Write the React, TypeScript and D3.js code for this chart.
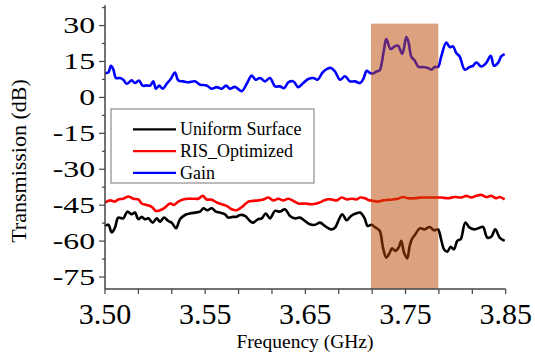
import { useEffect, useRef } from 'react'
import * as d3 from 'd3'

// traces: [frequency GHz, transmission dB]
const uniformSurface: [number, number][] = [
  [3.5, -53.7], [3.5029, -53.2], [3.5059, -56.4], [3.5087, -54.4], [3.5116, -50.2], [3.516, -50.5],
  [3.5195, -47.7], [3.5233, -48.8], [3.5262, -48.1], [3.5291, -50.9], [3.5321, -49.9], [3.5349, -50.9],
  [3.5378, -50.5], [3.5417, -52.3], [3.5452, -50.5], [3.548, -51.9], [3.5515, -50.2], [3.5553, -51.6],
  [3.5583, -52.3], [3.562, -54.6], [3.5655, -50.9], [3.5699, -49.1], [3.5742, -48.5], [3.5786, -48.1],
  [3.583, -47.7], [3.5859, -46.3], [3.5894, -47.1], [3.5932, -46.3], [3.597, -47.7], [3.6004, -48.1],
  [3.6048, -48.8], [3.6077, -50.2], [3.6115, -49.9], [3.615, -49.8], [3.6179, -49.1], [3.6223, -49.5],
  [3.6266, -51.6], [3.6295, -52.3], [3.6334, -50.9], [3.6369, -50.5], [3.6404, -48.5], [3.6441, -50.5],
  [3.6485, -47.4], [3.6528, -47.7], [3.6572, -46.7], [3.6616, -49.5], [3.6659, -50.5], [3.6703, -50.2],
  [3.6747, -51.6], [3.679, -53.0], [3.6834, -53.2], [3.6878, -52.3], [3.6921, -53.7], [3.6974, -55.1],
  [3.7009, -54.4], [3.7044, -50.9], [3.7073, -48.8], [3.7111, -51.3], [3.7149, -49.5], [3.719, -48.5],
  [3.7227, -48.1], [3.7265, -50.2], [3.7294, -53.7], [3.7329, -53.2], [3.7356, -54.1], [3.7399, -55.7],
  [3.7428, -62.7], [3.7457, -66.9], [3.7487, -64.8], [3.7507, -63.0], [3.7536, -64.1], [3.7565, -62.7],
  [3.7588, -59.9], [3.7612, -64.8], [3.764, -67.2], [3.7661, -62.0], [3.7681, -59.2], [3.771, -57.2],
  [3.7749, -54.7], [3.7792, -55.1], [3.7836, -54.1], [3.7874, -55.5], [3.7909, -55.1], [3.7932, -58.5],
  [3.7961, -63.4], [3.799, -64.4], [3.8019, -62.4], [3.8048, -63.4], [3.8077, -59.9], [3.8107, -59.2],
  [3.8147, -52.3], [3.8185, -54.4], [3.8229, -55.1], [3.8273, -54.4], [3.8302, -54.1], [3.8339, -58.5],
  [3.8374, -58.2], [3.8409, -55.1], [3.8447, -58.5], [3.8491, -59.9],
]

const risOptimized: [number, number][] = [
  [3.5, -43.9], [3.5044, -43.0], [3.5087, -43.5], [3.5116, -42.6], [3.516, -42.3], [3.5204, -41.4],
  [3.5247, -42.3], [3.5291, -42.6], [3.5321, -44.3], [3.5364, -44.9], [3.5408, -45.7], [3.5445, -47.4],
  [3.548, -47.1], [3.5524, -46.0], [3.5568, -44.3], [3.5603, -44.9], [3.564, -43.5], [3.5684, -42.6],
  [3.5728, -42.3], [3.5771, -42.3], [3.5815, -42.3], [3.5853, -41.1], [3.5888, -42.6], [3.5932, -42.7],
  [3.5976, -43.9], [3.6019, -44.6], [3.6063, -45.3], [3.6107, -46.7], [3.615, -47.1], [3.6208, -45.3],
  [3.6252, -43.5], [3.6295, -43.2], [3.6339, -43.0], [3.6383, -42.6], [3.6426, -41.8], [3.647, -43.0],
  [3.6514, -42.3], [3.6557, -43.0], [3.6601, -42.3], [3.6645, -43.2], [3.6688, -44.3], [3.6747, -44.3],
  [3.6805, -44.6], [3.6849, -44.3], [3.6893, -43.5], [3.6936, -42.6], [3.698, -42.6], [3.7024, -43.0],
  [3.7067, -41.8], [3.7111, -42.6], [3.7155, -42.3], [3.7198, -42.6], [3.7227, -41.8], [3.7271, -42.1],
  [3.73, -42.8], [3.7341, -43.2], [3.7384, -43.5], [3.7428, -43.0], [3.7472, -42.8], [3.7515, -42.6],
  [3.7559, -42.3], [3.7603, -41.6], [3.7647, -42.1], [3.7705, -42.1], [3.7763, -41.8], [3.7821, -41.8],
  [3.788, -41.8], [3.7937, -41.8], [3.7996, -42.1], [3.8054, -41.6], [3.8112, -41.8], [3.8156, -41.1],
  [3.8199, -41.8], [3.8243, -41.1], [3.8287, -40.7], [3.833, -41.6], [3.8374, -41.1], [3.8417, -42.1],
  [3.8447, -41.6], [3.8491, -42.6],
]

const gain: [number, number][] = [
  [3.5, 10.2], [3.5029, 10.4], [3.5052, 13.2], [3.5072, 11.8], [3.5096, 8.1], [3.5131, 8.1],
  [3.516, 7.4], [3.519, 5.7], [3.5233, 7.1], [3.5262, 6.0], [3.5297, 7.0], [3.5329, 4.9],
  [3.5364, 5.0], [3.5393, 4.9], [3.5422, 6.7], [3.5445, 3.6], [3.5474, 4.9], [3.5504, 3.6],
  [3.5539, 5.7], [3.5574, 7.7], [3.5611, 10.4], [3.564, 7.1], [3.5684, 6.7], [3.5728, 6.3],
  [3.5786, 6.7], [3.583, 5.3], [3.5888, 5.0], [3.5932, 3.6], [3.5976, 4.3], [3.6019, 3.6],
  [3.6057, 4.9], [3.6092, 3.6], [3.6135, 4.4], [3.6194, 2.6], [3.6238, 5.7], [3.6281, 9.1],
  [3.6316, 7.4], [3.6354, 8.1], [3.6397, 6.7], [3.6441, 8.1], [3.6485, 4.6], [3.6528, 4.6],
  [3.6566, 3.9], [3.6601, 6.3], [3.6645, 6.7], [3.6688, 4.3], [3.6732, 6.0], [3.6776, 7.7],
  [3.6819, 8.1], [3.6858, 7.4], [3.6898, 10.2], [3.6936, 11.8], [3.6974, 12.3], [3.7009, 10.8],
  [3.7053, 7.4], [3.7096, 8.8], [3.714, 6.7], [3.7184, 6.7], [3.7227, 6.0], [3.7256, 7.7],
  [3.7286, 11.1], [3.7315, 10.2], [3.7344, 10.0], [3.737, 10.8], [3.7399, 11.3], [3.7417, 14.3],
  [3.7437, 20.0], [3.7457, 24.4], [3.7495, 20.2], [3.753, 21.3], [3.7559, 21.6], [3.7597, 18.2],
  [3.7632, 25.2], [3.7653, 22.7], [3.7675, 17.1], [3.7705, 15.4], [3.774, 12.7], [3.7778, 12.7],
  [3.7821, 12.3], [3.785, 11.6], [3.788, 12.7], [3.7909, 12.7], [3.7937, 17.1], [3.7981, 22.9],
  [3.8011, 21.0], [3.804, 21.3], [3.8068, 18.5], [3.8098, 17.1], [3.8142, 11.6], [3.8185, 12.7],
  [3.8214, 13.2], [3.8243, 14.6], [3.8287, 12.9], [3.833, 14.4], [3.8369, 17.4], [3.8398, 13.2],
  [3.8433, 14.4], [3.8461, 17.1], [3.8491, 18.1],
]

const seriesNames = ['Uniform Surface', 'RIS_Optimized', 'Gain']
const seriesColors = ['#000000', '#ff0000', '#0000ff']

const yTickValues = [30, 15, 0, -15, -30, -45, -60, -75]
const xTickLabels = ['3.50', '3.55', '3.65', '3.75', '3.85']

// highlighted band (GHz) and its top (dB)
const bandRange = [3.7323, 3.7911]
const bandTop = 30.8

export default function App() {
  const svgRef = useRef<SVGSVGElement>(null)

  useEffect(() => {
    if (!svgRef.current) return
    const svg = d3.select(svgRef.current)
    svg.selectAll('*').remove()

    const axisColor = '#444'

    const x = d3.scaleLinear().domain([3.5, 3.85]).range([105, 505.7])
    const y = d3.scaleLinear().domain([-80, 40]).range([289, 1.6])

    const line = d3.line<[number, number]>()
      .x(d => x(d[0]))
      .y(d => y(d[1]))
      .curve(d3.curveCatmullRom.alpha(0.5))

    const allSeries = [uniformSurface, risOptimized, gain]
    allSeries.forEach((s, i) => {
      svg.append('path')
        .datum(s)
        .attr('d', line)
        .attr('fill', 'none')
        .attr('stroke', seriesColors[i])
        .attr('stroke-width', 2.6)
        .attr('stroke-linejoin', 'round')
    })

    // shaded band on top of the traces
    svg.append('rect')
      .attr('x', x(bandRange[0]))
      .attr('y', y(bandTop))
      .attr('width', x(bandRange[1]) - x(bandRange[0]))
      .attr('height', y(-80) - y(bandTop))
      .attr('fill', '#b94500')
      .attr('fill-opacity', 0.5)

    // y axis
    const yAxis = svg.append('g')
    yAxis.append('line')
      .attr('x1', 105).attr('x2', 105)
      .attr('y1', y(38.5)).attr('y2', y(-80))
      .attr('stroke', axisColor).attr('stroke-width', 1.5)
    d3.range(-75, 40, 7.5).forEach(v => {
      const major = v % 15 === 0
      yAxis.append('line')
        .attr('x1', 105).attr('x2', major ? 99 : 102)
        .attr('y1', y(v)).attr('y2', y(v))
        .attr('stroke', axisColor).attr('stroke-width', 1.2)
    })
    yTickValues.forEach(v => {
      yAxis.append('text')
        .attr('transform', `translate(95,${y(v) + 7.7}) scale(1.38,1)`)
        .attr('text-anchor', 'end')
        .style('font-size', '23px')
        .attr('fill', '#000')
        .text(String(v))
    })

    // x axis
    const xAxis = svg.append('g')
    xAxis.append('line')
      .attr('x1', 105).attr('x2', 505.7)
      .attr('y1', 289).attr('y2', 289)
      .attr('stroke', axisColor).attr('stroke-width', 1.5)
    const xTicks = d3.range(13).map(i => 3.5 + (i * 0.35) / 12)
    xTicks.forEach((t, i) => {
      xAxis.append('line')
        .attr('x1', x(t)).attr('x2', x(t))
        .attr('y1', 289).attr('y2', 294)
        .attr('stroke', axisColor).attr('stroke-width', 1.2)
      if (i % 3 === 0) {
        xAxis.append('text')
          .attr('x', x(t))
          .attr('y', 324)
          .attr('text-anchor', 'middle')
          .style('font-size', '30px')
          .attr('fill', '#000')
          .text(xTickLabels[i / 3])
      }
    })

    // axis titles
    svg.append('text')
      .attr('x', 305)
      .attr('y', 348)
      .attr('text-anchor', 'middle')
      .style('font-size', '19.5px')
      .text('Frequency (GHz)')

    svg.append('text')
      .attr('transform', 'translate(26,161) rotate(-90)')
      .attr('text-anchor', 'middle')
      .style('font-size', '22px')
      .text('Transmission (dB)')

    // legend
    const legend = svg.append('g')
    legend.append('rect')
      .attr('x', 111).attr('y', 109)
      .attr('width', 203).attr('height', 74)
      .attr('fill', '#fff')
      .attr('stroke', '#777')
      .attr('stroke-width', 1)
    seriesNames.forEach((name, i) => {
      const cy = 129.3 + i * 21.8
      legend.append('line')
        .attr('x1', 133).attr('x2', 176)
        .attr('y1', cy).attr('y2', cy)
        .attr('stroke', seriesColors[i])
        .attr('stroke-width', 2.2)
      legend.append('text')
        .attr('x', 180)
        .attr('y', cy + 5.8)
        .style('font-size', '18px')
        .text(name)
    })
  }, [])

  return (
    <svg
      ref={svgRef}
      width={535}
      height={360}
      style={{
        position: 'fixed',
        left: 0,
        top: 0,
        background: '#fff',
        fontFamily: '"Liberation Serif", serif',
      }}
    />
  )
}
